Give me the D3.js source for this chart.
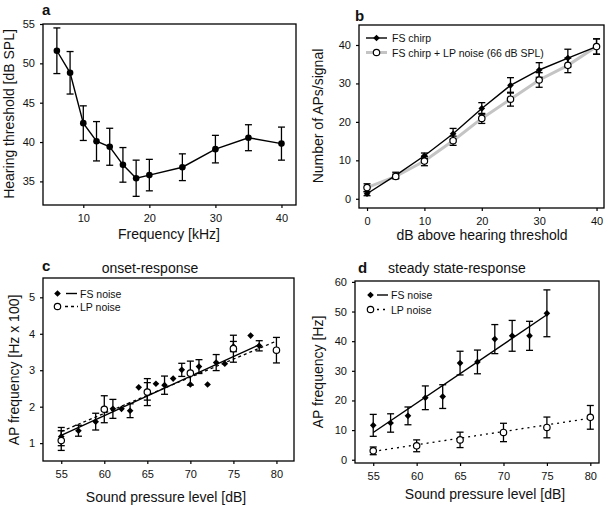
<!DOCTYPE html>
<html>
<head>
<meta charset="utf-8">
<title>hearing</title>
<style>
  body { margin: 0; background: #fff; }
  svg { font-family: "Liberation Sans", Arial, sans-serif; }
</style>
</head>
<body>
<svg id="fig" width="611" height="506"></svg>
<script src="https://cdn.jsdelivr.net/npm/d3@7"></script>
<script>
// panel a: hearing threshold
var aFreq = [6, 8, 10, 12, 14, 16, 18, 20, 25, 30, 35, 40];
var aThr = [51.6, 48.8, 42.4, 40.1, 39.4, 37.1, 35.4, 35.8, 36.8, 39.1, 40.55, 39.8];
var aErr = [2.9, 2.7, 2.2, 2.5, 2.35, 2.2, 2.3, 2.0, 1.7, 1.75, 1.65, 2.1];

// panel b: APs per signal
var bDb = [0, 5, 10, 15, 20, 25, 30, 35, 40];
var bChirp = [1.3, 6.1, 11.2, 16.9, 23.5, 29.5, 33.5, 36.6, 39.6];
var bChirpErr = [0.5, 0.8, 0.7, 1.4, 1.5, 2.0, 1.9, 2.3, 2.0];
var bNoise = [2.9, 5.8, 9.8, 15.1, 20.9, 25.9, 30.9, 34.7, 39.6];
var bNoiseErr = [1.0, 0.6, 1.2, 1.2, 1.3, 1.8, 1.9, 1.9, 2.0];

// panel c: onset response (Hz x 100)
var cFsX = [55, 57, 59, 61, 62, 63, 64, 65, 66, 67, 68, 69, 70, 71, 72, 73, 74, 75, 77, 78];
var cFsY = [1.18, 1.34, 1.59, 1.94, 1.94, 1.89, 2.53, 2.42, 2.63, 2.59, 2.77, 3.01, 2.61, 3.10, 2.61, 3.21, 3.18, 3.65, 3.95, 3.67];
var cFsErr = [0.25, 0.15, 0.23, 0.26, 0, 0.19, 0, 0.24, 0, 0.25, 0, 0.18, 0, 0.19, 0, 0.22, 0, 0.14, 0, 0.14];
var cLpX = [55, 60, 65, 70, 75, 80];
var cLpY = [1.07, 1.93, 2.40, 2.92, 3.59, 3.55];
var cLpErr = [0.27, 0.37, 0.37, 0.33, 0.37, 0.35];
var cFsFit = [[55, 1.21], [78, 3.70]];
var cLpFit = [[55, 1.32], [80, 3.80]];

// panel d: steady state response (Hz)
var dFsX = [55, 57, 59, 61, 63, 65, 67, 69, 71, 73, 75];
var dFsY = [11.6, 12.4, 14.8, 20.9, 21.3, 32.6, 33.0, 40.7, 41.8, 41.8, 49.4];
var dFsErr = [3.7, 3.1, 3.0, 4.0, 4.0, 4.0, 4.0, 4.9, 5.2, 4.9, 7.9];
var dLpX = [55, 60, 65, 70, 75, 80];
var dLpY = [3.0, 4.7, 6.7, 9.2, 10.9, 14.3];
var dLpErr = [1.3, 2.0, 2.6, 3.1, 3.5, 4.0];
var dFsFit = [[55, 9.2], [75, 48.9]];
var dLpFit = [[55, 2.8], [80, 14.0]];

var svg = d3.select('#fig');

function panel(box, xDom, yDom, xTicks, yTicks) {
    var x = d3.scaleLinear().domain(xDom).range([box.l, box.r]);
    var y = d3.scaleLinear().domain(yDom).range([box.b, box.t]);
    var g = svg.append('g');
    g.append('g')
        .attr('transform', 'translate(0,' + box.b + ')')
        .call(d3.axisBottom(x).tickValues(xTicks).tickFormat(d3.format('d')).tickSize(3).tickPadding(6).tickSizeOuter(0));
    g.append('g')
        .attr('transform', 'translate(' + box.l + ',0)')
        .call(d3.axisLeft(y).tickValues(yTicks).tickFormat(d3.format('d')).tickSize(3).tickPadding(5).tickSizeOuter(0));
    g.selectAll('.domain').remove();
    g.selectAll('.tick line').attr('stroke', '#000').attr('stroke-width', 1.2);
    g.selectAll('.tick text').attr('font-size', 11).attr('font-family', '"Liberation Sans", Arial, sans-serif').attr('fill', '#111');
    g.append('rect')
        .attr('x', box.l).attr('y', box.t)
        .attr('width', box.r - box.l).attr('height', box.b - box.t)
        .attr('fill', 'none').attr('stroke', '#000').attr('stroke-width', 1.3);
    return { x: x, y: y, g: g };
}

function errBars(p, xs, ys, es, w) {
    var cap = 3.5;
    xs.forEach(function(xv, i) {
        if (!es[i]) return;
        var cx = p.x(xv), y1 = p.y(ys[i] - es[i]), y2 = p.y(ys[i] + es[i]);
        p.g.append('line').attr('x1', cx).attr('x2', cx).attr('y1', y1).attr('y2', y2)
            .attr('stroke', '#000').attr('stroke-width', w || 1.3);
        [y1, y2].forEach(function(yy) {
            p.g.append('line').attr('x1', cx - cap).attr('x2', cx + cap).attr('y1', yy).attr('y2', yy)
                .attr('stroke', '#000').attr('stroke-width', w || 1.3);
        });
    });
}

function line(p, pts, color, width, dash) {
    p.g.append('path')
        .attr('d', d3.line().x(function(d) { return p.x(d[0]); }).y(function(d) { return p.y(d[1]); })(pts))
        .attr('fill', 'none').attr('stroke', color).attr('stroke-width', width)
        .attr('stroke-dasharray', dash || null);
}

// square rotated by 45 degrees -> even diamond
var diamond = d3.symbol().type(d3.symbolSquare).size(22);

function diamonds(g, pts) {
    g.selectAll(null).data(pts).enter().append('path')
        .attr('d', diamond)
        .attr('transform', function(d) { return 'translate(' + d[0] + ',' + d[1] + ') rotate(45)'; })
        .attr('fill', '#000');
}

function circles(g, pts, r, open) {
    g.selectAll(null).data(pts).enter().append('circle')
        .attr('cx', function(d) { return d[0]; }).attr('cy', function(d) { return d[1]; })
        .attr('r', r)
        .attr('fill', open ? '#fff' : '#000')
        .attr('stroke', '#000').attr('stroke-width', open ? 1.2 : 0);
}

function zip(p, xs, ys) {
    return xs.map(function(v, i) { return [p.x(v), p.y(ys[i])]; });
}

function pairs(xs, ys) {
    return xs.map(function(v, i) { return [v, ys[i]]; });
}

function text(x, y, s, opt) {
    opt = opt || {};
    var t = svg.append('text').attr('x', x).attr('y', y).text(s)
        .attr('font-size', opt.size || 14)
        .attr('fill', '#111')
        .attr('text-anchor', opt.anchor || 'start');
    if (opt.bold) t.attr('font-weight', 'bold');
    if (opt.rotate) t.attr('transform', 'rotate(-90,' + x + ',' + y + ')');
    return t;
}

// ---- panel a
var pa = panel({ l: 43, t: 24, r: 296, b: 205 }, [3.9, 42.2], [32, 55], [10, 20, 30, 40], [35, 40, 45, 50, 55]);
line(pa, pairs(aFreq, aThr), '#000', 1.4);
errBars(pa, aFreq, aThr, aErr);
circles(pa.g, zip(pa, aFreq, aThr), 3.3, false);
text(42, 15, 'a', { bold: true, size: 15 });
text(13.5, 114, 'Hearing threshold [dB SPL]', { anchor: 'middle', rotate: true });
text(169, 239, 'Frequency [kHz]', { anchor: 'middle' });

// ---- panel b
var pb = panel({ l: 359, t: 25, r: 604, b: 208 }, [-1.4, 41.3], [-2.4, 45.2], [0, 10, 20, 30, 40], [0, 10, 20, 30, 40]);
line(pb, pairs(bDb, bNoise), '#c4c4c4', 3);
line(pb, pairs(bDb, bChirp), '#000', 1.4);
errBars(pb, bDb, bNoise, bNoiseErr);
errBars(pb, bDb, bChirp, bChirpErr);
diamonds(pb.g, zip(pb, bDb, bChirp));
circles(pb.g, zip(pb, bDb, bNoise), 3.2, true);
// legend b
svg.append('line').attr('x1', 366).attr('x2', 387).attr('y1', 38).attr('y2', 38).attr('stroke', '#000').attr('stroke-width', 1.4);
diamonds(svg, [[376.5, 38]]);
svg.append('line').attr('x1', 366).attr('x2', 387).attr('y1', 52.5).attr('y2', 52.5).attr('stroke', '#c4c4c4').attr('stroke-width', 3);
circles(svg, [[376.5, 52.5]], 3.2, true);
text(392, 42, 'FS chirp', { size: 10.5 });
text(392, 56.5, 'FS chirp + LP noise (66 dB SPL)', { size: 10.5 });
text(355, 21, 'b', { bold: true, size: 15 });
text(323, 116, 'Number of APs/signal', { anchor: 'middle', rotate: true });
text(482, 240, 'dB above hearing threshold', { anchor: 'middle' });

// ---- panel c
var pc = panel({ l: 43, t: 278, r: 294, b: 461 }, [52.88, 82.04], [0.51, 5.53], [55, 60, 65, 70, 75, 80], [1, 2, 3, 4, 5]);
line(pc, cLpFit, '#000', 1.3, '3,3');
line(pc, cFsFit, '#000', 1.4);
errBars(pc, cFsX, cFsY, cFsErr);
errBars(pc, cLpX, cLpY, cLpErr);
diamonds(pc.g, zip(pc, cFsX, cFsY));
circles(pc.g, zip(pc, cLpX, cLpY), 3.2, true);
// legend c
diamonds(svg, [[57.5, 293.5]]);
svg.append('line').attr('x1', 66).attr('x2', 77).attr('y1', 293.5).attr('y2', 293.5).attr('stroke', '#000').attr('stroke-width', 1.4);
circles(svg, [[57.5, 306.5]], 3.2, true);
svg.append('line').attr('x1', 65).attr('x2', 78).attr('y1', 306.5).attr('y2', 306.5).attr('stroke', '#000').attr('stroke-width', 1.3).attr('stroke-dasharray', '3,3');
text(80, 297.5, 'FS noise', { size: 10.5 });
text(80, 310.5, 'LP noise', { size: 10.5 });
text(42, 271, 'c', { bold: true, size: 15 });
text(150, 273, 'onset-response', { anchor: 'middle' });
text(18.5, 370, 'AP frequency [Hz x 100]', { anchor: 'middle', rotate: true });
text(166, 502, 'Sound pressure level [dB]', { anchor: 'middle' });

// ---- panel d
var pd = panel({ l: 355, t: 281, r: 599, b: 463 }, [52.9, 81.0], [-1.1, 60.3], [55, 60, 65, 70, 75, 80], [0, 10, 20, 30, 40, 50, 60]);
line(pd, dLpFit, '#000', 1.3, '2,4');
line(pd, dFsFit, '#000', 1.4);
errBars(pd, dFsX, dFsY, dFsErr);
errBars(pd, dLpX, dLpY, dLpErr);
diamonds(pd.g, zip(pd, dFsX, dFsY));
circles(pd.g, zip(pd, dLpX, dLpY), 3.2, true);
// legend d
diamonds(svg, [[370.5, 295]]);
svg.append('line').attr('x1', 377).attr('x2', 388).attr('y1', 295).attr('y2', 295).attr('stroke', '#000').attr('stroke-width', 1.4);
circles(svg, [[370.5, 309.5]], 3.2, true);
svg.append('line').attr('x1', 377).attr('x2', 388).attr('y1', 309.5).attr('y2', 309.5).attr('stroke', '#000').attr('stroke-width', 1.3).attr('stroke-dasharray', '2,4');
text(391, 299, 'FS noise', { size: 10.5 });
text(391, 313.5, 'LP noise', { size: 10.5 });
text(358, 273, 'd', { bold: true, size: 15 });
text(388, 273, 'steady state-response', { size: 14 });
text(323, 372, 'AP frequency [Hz]', { anchor: 'middle', rotate: true });
text(485, 499, 'Sound pressure level [dB]', { anchor: 'middle' });
</script>
</body>
</html>
